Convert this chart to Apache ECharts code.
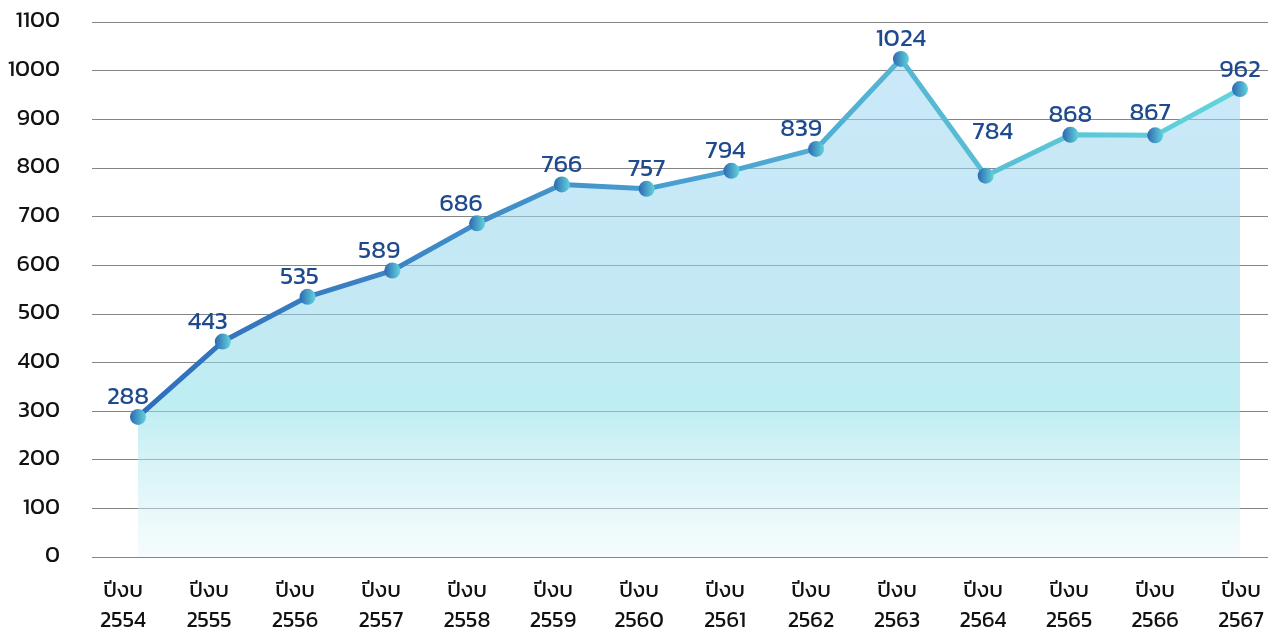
<!DOCTYPE html>
<html><head><meta charset="utf-8">
<script src="https://cdn.jsdelivr.net/npm/echarts@6/dist/echarts.min.js"></script>
<style>html,body{margin:0;padding:0;background:#fff}#c{width:1274px;height:632px}</style>
</head><body><div id="c"></div>
<script>
const yearPrefix = 'ปีงบ';
const years = ['2554','2555','2556','2557','2558','2559','2560','2561','2562','2563','2564','2565','2566','2567'];
const values = [288, 443, 535, 589, 686, 766, 757, 794, 839, 1024, 784, 868, 867, 962];
const yTicks = [0, 100, 200, 300, 400, 500, 600, 700, 800, 900, 1000, 1100];
const labelNudge = [[-10,0],[-15,0],[-8,0],[-13,0],[-16,0],[0,0],[0,0],[-6,0],[-15,0],[0,0],[7,-24],[0,0],[-5,-3],[0,0]];

const categories = years.map(y => yearPrefix + '\n' + y);
const FONT = 'Kanit, "Noto Sans Thai", "Noto Sans", Lato, sans-serif';
const yMin = yTicks[0], yMax = yTicks[yTicks.length - 1], yStep = yTicks[1] - yTicks[0];
const TOP = 22, BOTTOM = 75;

const markerGrad = new echarts.graphic.LinearGradient(0, 0, 1, 0, [
  {offset: 0, color: '#2c68b2'}, {offset: 1, color: '#62d4dc'}
]);

const chart = echarts.init(document.getElementById('c'), null, {renderer: 'canvas'});
chart.setOption({
  animation: false,
  grid: [
    {left: 92, right: 6, top: TOP, bottom: BOTTOM, outerBoundsMode: 'none'},
    {left: 138, right: 34, top: TOP, bottom: BOTTOM, outerBoundsMode: 'none'},
    {left: 123, right: 33, top: TOP, bottom: BOTTOM, outerBoundsMode: 'none'}
  ],
  xAxis: [
    {gridIndex: 0, type: 'value', min: 0, max: 1, show: false},
    {gridIndex: 1, type: 'category', data: categories, boundaryGap: false, show: false},
    {gridIndex: 2, type: 'category', data: categories, boundaryGap: false,
     axisLine: {show: false}, axisTick: {show: false}, splitLine: {show: false},
     axisLabel: {color: '#111', fontSize: 22, fontFamily: FONT, lineHeight: 30, margin: 20, interval: 0}}
  ],
  yAxis: [
    {gridIndex: 0, type: 'value', min: yMin, max: yMax, interval: yStep,
     axisLine: {show: false}, axisTick: {show: false},
     splitLine: {lineStyle: {color: '#858585', width: 1}},
     axisLabel: {color: '#111', fontSize: 23, fontFamily: FONT, margin: 32, formatter: v => String(v)}},
    {gridIndex: 1, type: 'value', min: yMin, max: yMax, interval: yStep, show: false,
     splitLine: {show: false}},
    {gridIndex: 2, type: 'value', min: yMin, max: yMax, interval: yStep, show: false,
     splitLine: {show: false}}
  ],
  series: [{
    type: 'line',
    xAxisIndex: 1, yAxisIndex: 1,
    data: values.map((v, i) => ({value: v, label: {offset: labelNudge[i]}})),
    symbol: 'circle',
    symbolSize: 16,
    itemStyle: {color: markerGrad, borderWidth: 0},
    lineStyle: {
      width: 5,
      color: new echarts.graphic.LinearGradient(0, 0, 1, 0, [
        {offset: 0, color: '#2f6dbb'},
        {offset: 0.5, color: '#4a9fd0'},
        {offset: 0.7, color: '#55b8d2'},
        {offset: 1, color: '#63d5db'}
      ])
    },
    areaStyle: {
      color: new echarts.graphic.LinearGradient(0, 0, 0, 1, [
        {offset: 0, color: 'rgba(160,214,243,0.78)'},
        {offset: 0.45, color: 'rgba(150,214,236,0.8)'},
        {offset: 0.7, color: 'rgba(140,224,232,0.8)'},
        {offset: 1, color: 'rgba(235,247,250,0.6)'}
      ])
    },
    label: {
      show: true, position: 'top', distance: -2,
      color: '#1f4b8e', fontSize: 25, fontFamily: FONT
    },
    z: 3
  }]
});
</script></body></html>
